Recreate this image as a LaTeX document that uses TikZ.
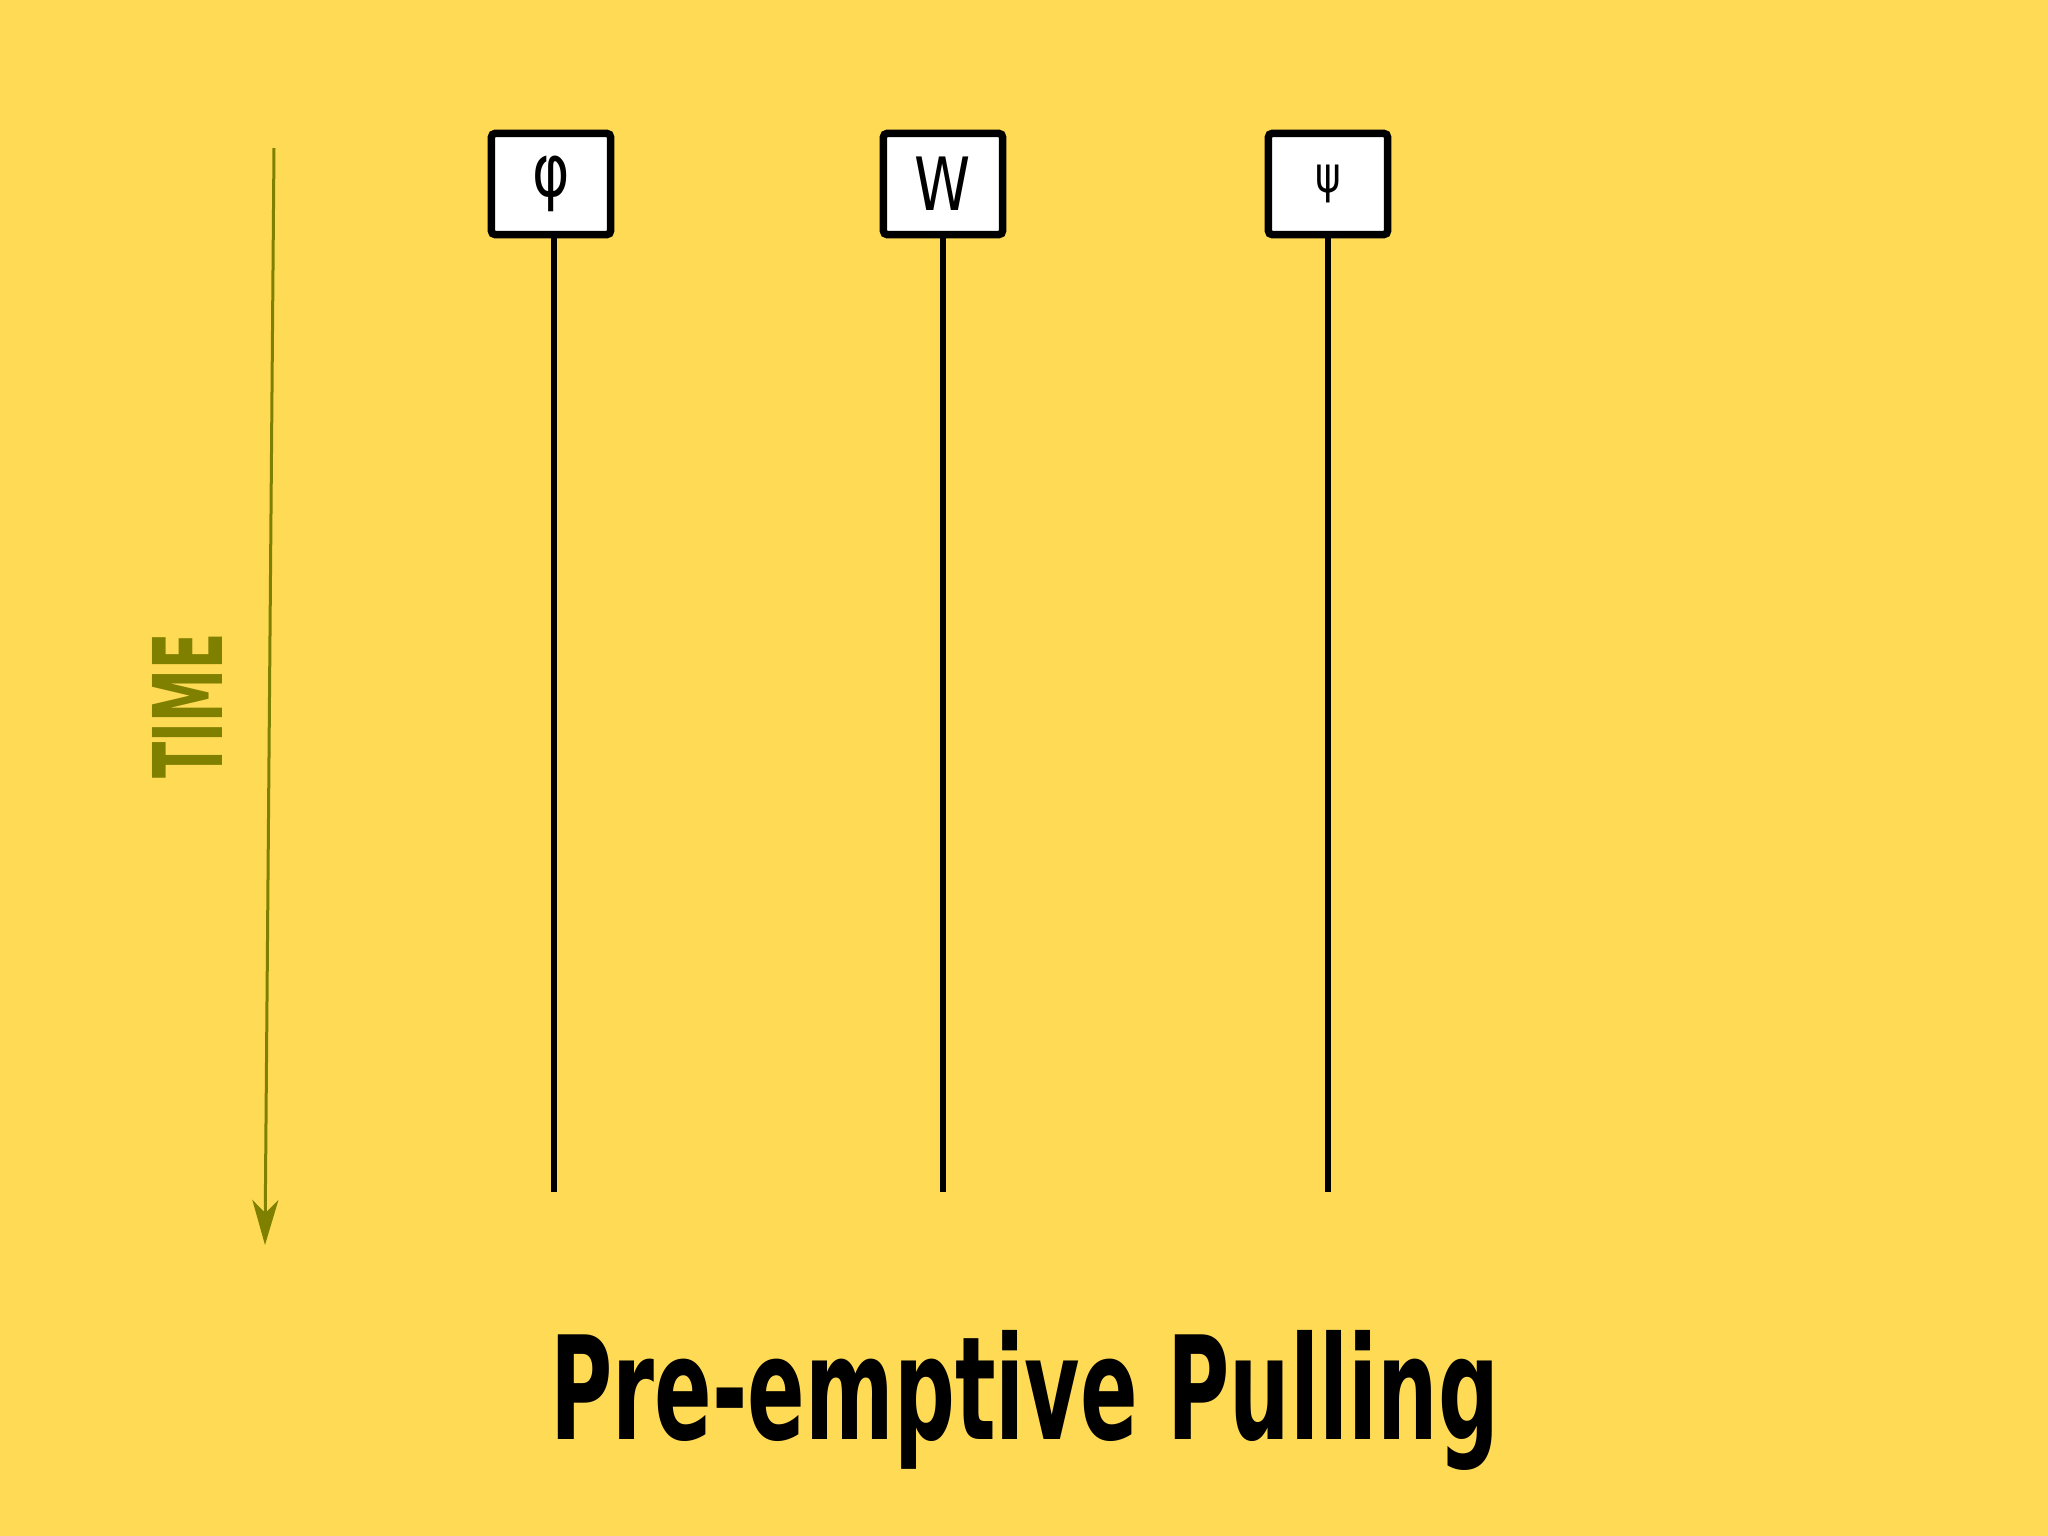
\documentclass[tikz,border=0pt]{standalone}
\usepackage{fontspec}
\setmainfont{DejaVu Sans}
\usetikzlibrary{arrows.meta}
\definecolor{mustard}{RGB}{255,219,85}
\definecolor{timeolive}{RGB}{128,128,0}
\tikzset{
  statebox/.style={draw=black, fill=white, line width=0.075cm, rounded corners=1pt,
    minimum width=1.19cm, minimum height=1.01cm, inner sep=0pt, font=\fontsize{19}{22}\selectfont},
  lifeline/.style={draw=black, line width=0.06cm},
  timearrow/.style={draw=timeolive, line width=0.03cm, -{Stealth[length=0.45cm,width=0.26cm,inset=0.13cm]}}
}
\begin{document}
\begin{tikzpicture}[x=0.01cm,y=-0.01cm]
  \fill[mustard] (0,0) rectangle (2048,1536);
  \useasboundingbox (0,0) rectangle (2048,1536);
  % boxes
  \node[statebox] (phi) at (551,184) {\scalebox{0.85}[1.1]{φ}};
  \node[statebox] (w) at (943,184) {\scalebox{0.85}[1.1]{W}};
  \node[statebox, font=\fontsize{13}{16}\selectfont] (psi) at (1328,184) {\scalebox{0.85}[1.1]{ψ}};
  % lifeline ends
  \coordinate (e1) at (554,1192);
  \coordinate (e2) at (943,1192);
  \coordinate (e3) at (1328,1192);
  \draw[lifeline] (phi.south -| e1) -- (e1);
  \draw[lifeline] (w.south -| e2) -- (e2);
  \draw[lifeline] (psi.south -| e3) -- (e3);
  % time arrow
  \coordinate (t0) at (274,148);
  \coordinate (t1) at (265,1245);
  \draw[timearrow] (t0) -- (t1);
  \node[inner sep=0pt, text=timeolive, rotate=90] (timelabel) at (187,706)
    {\resizebox*{1.45cm}{0.70cm}{\bfseries TIME}};
  % title
  \node[inner sep=0pt] (title) at (1025,1400)
    {\resizebox*{9.48cm}{1.40cm}{\bfseries Pre-emptive Pulling}};
\end{tikzpicture}
\end{document}
